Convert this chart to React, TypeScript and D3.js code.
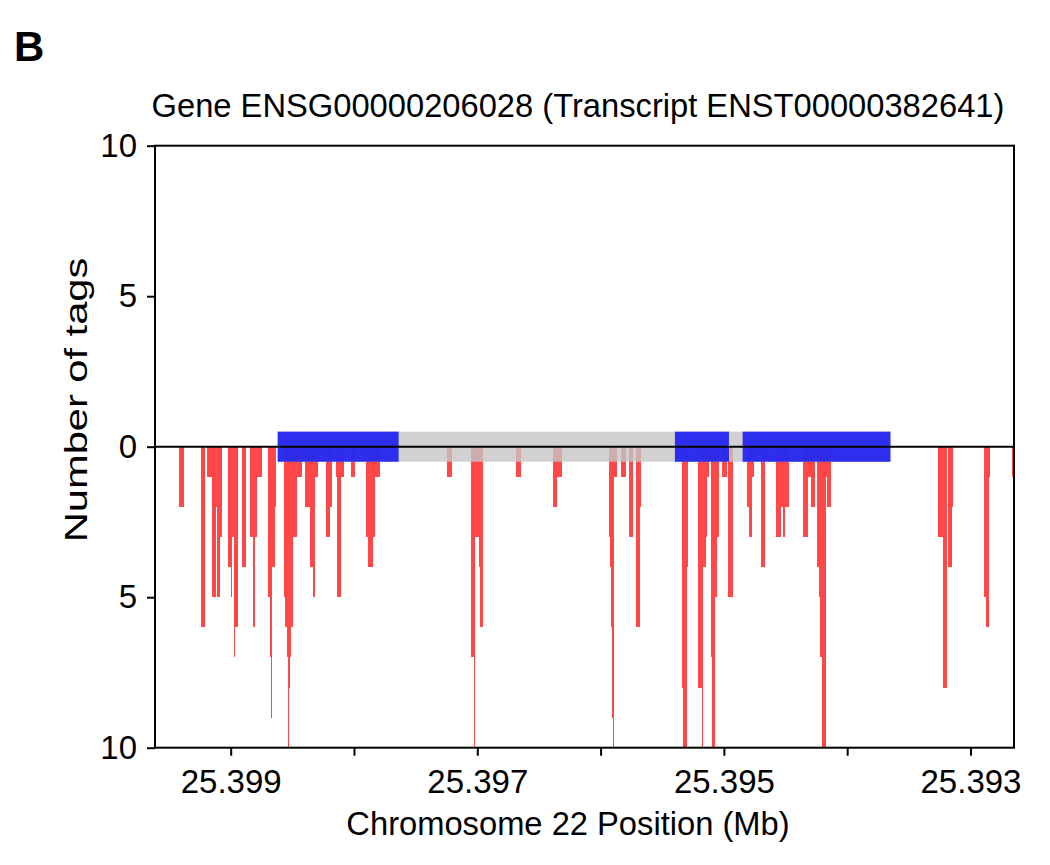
import React from 'react';
import * as d3 from 'd3';

// tag coverage along the transcript, chromosome positions in bp (drawn downward)
const segFrom = [
  25399417, 25399243, 25399195, 25399154, 25399122, 25399111, 25399084, 25399024, 25398998, 25398987,
  25398973, 25398963, 25398911, 25398843, 25398817, 25398805, 25398784, 25398700, 25398684, 25398676,
  25398663, 25398643, 25398568, 25398557, 25398546, 25398535, 25398527, 25398519, 25398513, 25398497,
  25398460, 25398395, 25398357, 25398330, 25398314, 25398227, 25398195, 25398148, 25398140, 25398104,
  25398024, 25397905, 25397884, 25397848, 25397830, 25397242, 25397051, 25397023, 25397015, 25396989,
  25396981, 25396686, 25396384, 25396351, 25395930, 25395921, 25395916, 25395910, 25395905, 25395900,
  25395894, 25395832, 25395770, 25395715, 25395681, 25395338, 25395329, 25395302, 25395208, 25395175,
  25395167, 25395145, 25395137, 25395105, 25395094, 25395070, 25395056, 25395012, 25394964, 25394814,
  25394795, 25394776, 25394701, 25394578, 25394539, 25394518, 25394505, 25394356, 25394316, 25394296,
  25394243, 25394229, 25394221, 25394207, 25394172, 25394162, 25393266, 25393226, 25393183, 25393153,
  25392888, 25392875, 25392850, 25392661
];
const segTo = [
  25399381, 25399211, 25399154, 25399122, 25399111, 25399084, 25399068, 25398998, 25398987, 25398973,
  25398963, 25398943, 25398878, 25398817, 25398805, 25398784, 25398746, 25398684, 25398676, 25398663,
  25398643, 25398635, 25398557, 25398546, 25398535, 25398527, 25398519, 25398513, 25398497, 25398465,
  25398422, 25398357, 25398330, 25398314, 25398292, 25398195, 25398181, 25398140, 25398104, 25398081,
  25397988, 25397884, 25397848, 25397830, 25397789, 25397203, 25397023, 25397015, 25396989, 25396981,
  25396951, 25396648, 25396351, 25396316, 25395921, 25395916, 25395910, 25395905, 25395900, 25395894,
  25395865, 25395794, 25395735, 25395681, 25395672, 25395329, 25395302, 25395294, 25395175, 25395167,
  25395145, 25395137, 25395121, 25395094, 25395070, 25395056, 25395040, 25394975, 25394926, 25394795,
  25394776, 25394754, 25394665, 25394539, 25394518, 25394505, 25394475, 25394316, 25394296, 25394261,
  25394229, 25394221, 25394207, 25394172, 25394162, 25394134, 25393226, 25393193, 25393153, 25393145,
  25392875, 25392850, 25392842, 25392640
];
const tagCount = [
  2, 6, 1, 5, 2, 5, 3, 4, 5, 3,
  7, 6, 4, 3, 6, 3, 1, 5, 7, 9,
  4, 2, 5, 6, 7, 10, 8, 7, 6, 3,
  1, 2, 4, 5, 1, 3, 2, 1, 5, 1,
  1, 3, 4, 3, 1, 1, 7, 10, 3, 4,
  6, 1, 2, 1, 3, 4, 6, 7, 9, 10,
  1, 1, 3, 6, 2, 8, 10, 4, 8, 10,
  4, 3, 1, 7, 10, 5, 3, 1, 5, 2,
  3, 1, 4, 3, 2, 3, 2, 3, 1, 2,
  4, 5, 7, 10, 1, 2, 3, 8, 4, 2,
  5, 6, 1, 1
];

// exons of ENST00000382641 (bp)
const exonFrom = [25398619, 25395397, 25394848];
const exonTo = [25397638, 25394959, 25393649];

const yTicks = [10, 5, 0, -5, -10];
const xTicks = [25.399, 25.398, 25.397, 25.396, 25.395, 25.394, 25.393];
const xTickLabels = ['25.399', '', '25.397', '', '25.395', '', '25.393'];

const title = 'Gene ENSG00000206028 (Transcript ENST00000382641)';

const App: React.FC = () => {
  const svgRef = React.useRef<SVGSVGElement>(null);
  const width = 1050;
  const height = 865;

  React.useEffect(() => {
    if (!svgRef.current) return;
    const svg = d3.select(svgRef.current);
    svg.selectAll('*').remove();

    const left = 155, right = 1014, top = 145.7, bottom = 747.7;
    const font = 'Liberation Sans, Arial, sans-serif';

    const x = d3.scaleLinear().domain([25.399614, 25.392647]).range([left, right]);
    const y = d3.scaleLinear().domain([10, -10]).range([top, bottom]);

    svg.append('defs').append('clipPath').attr('id', 'plotClip')
      .append('rect')
      .attr('x', left).attr('y', top)
      .attr('width', right - left).attr('height', bottom - top);

    const plot = svg.append('g').attr('clip-path', 'url(#plotClip)');

    // coverage bars
    plot.selectAll('.tag')
      .data(d3.range(segFrom.length))
      .enter().append('rect')
      .attr('class', 'tag')
      .attr('x', i => x(segFrom[i] / 1e6))
      .attr('y', y(0))
      .attr('width', i => x(segTo[i] / 1e6) - x(segFrom[i] / 1e6))
      .attr('height', i => y(-tagCount[i]) - y(0))
      .attr('fill', '#ff4747')
      .attr('shape-rendering', 'crispEdges');

    // transcript structure: intron then exons
    const txStart = d3.max(exonFrom)!;
    const txEnd = d3.min(exonTo)!;
    plot.append('rect')
      .attr('x', x(txStart / 1e6))
      .attr('y', y(0.5))
      .attr('width', x(txEnd / 1e6) - x(txStart / 1e6))
      .attr('height', y(-0.5) - y(0.5))
      .attr('fill', '#c6c6c6')
      .attr('opacity', 0.8);

    plot.selectAll('.exon')
      .data(exonFrom)
      .enter().append('rect')
      .attr('class', 'exon')
      .attr('x', (d) => x(d / 1e6))
      .attr('y', y(0.5))
      .attr('width', (d, i) => x(exonTo[i] / 1e6) - x(d / 1e6))
      .attr('height', y(-0.5) - y(0.5))
      .attr('fill', '#1f1ff0')
      .attr('opacity', 0.92);

    // zero line
    svg.append('line')
      .attr('x1', left).attr('x2', right)
      .attr('y1', y(0)).attr('y2', y(0))
      .attr('stroke', '#000').attr('stroke-width', 2);

    // frame
    svg.append('rect')
      .attr('x', left).attr('y', top)
      .attr('width', right - left).attr('height', bottom - top)
      .attr('fill', 'none').attr('stroke', '#000').attr('stroke-width', 2);

    // Y axis
    const yAxis = svg.append('g')
      .attr('transform', `translate(${left},0)`)
      .call(d3.axisLeft(y).tickValues(yTicks).tickSize(8).tickPadding(10)
        .tickFormat(d => String(Math.abs(+d))));
    yAxis.select('.domain').remove();
    yAxis.selectAll('line').attr('stroke-width', 2);
    yAxis.selectAll('text').attr('font-size', 33).attr('font-family', font).attr('fill', '#000');

    // X axis
    const xAxis = svg.append('g')
      .attr('transform', `translate(0,${bottom})`)
      .call(d3.axisBottom(x).tickValues(xTicks).tickSize(8).tickPadding(14)
        .tickFormat((d, i) => xTickLabels[i]));
    xAxis.select('.domain').remove();
    xAxis.selectAll('line').attr('stroke-width', 2);
    xAxis.selectAll('text').attr('font-size', 33).attr('font-family', font).attr('fill', '#000');

    // titles
    svg.append('text')
      .attr('x', 578).attr('y', 117)
      .attr('text-anchor', 'middle')
      .attr('font-size', 32.7).attr('font-family', font)
      .text(title);

    svg.append('text')
      .attr('x', 568).attr('y', 835)
      .attr('text-anchor', 'middle')
      .attr('font-size', 32.7).attr('font-family', font)
      .text('Chromosome 22 Position (Mb)');

    svg.append('text')
      .attr('transform', `translate(87,400) rotate(-90) scale(1.3,1)`)
      .attr('text-anchor', 'middle')
      .attr('font-size', 32).attr('font-family', font)
      .text('Number of tags');

    svg.append('text')
      .attr('x', 14).attr('y', 61)
      .attr('font-size', 42).attr('font-weight', 'bold').attr('font-family', font)
      .text('B');
  }, []);

  return (
    <svg
      ref={svgRef}
      width={width}
      height={height}
      style={{ position: 'absolute', left: 0, top: 0, background: '#fff' }}
    />
  );
};

export default App;
